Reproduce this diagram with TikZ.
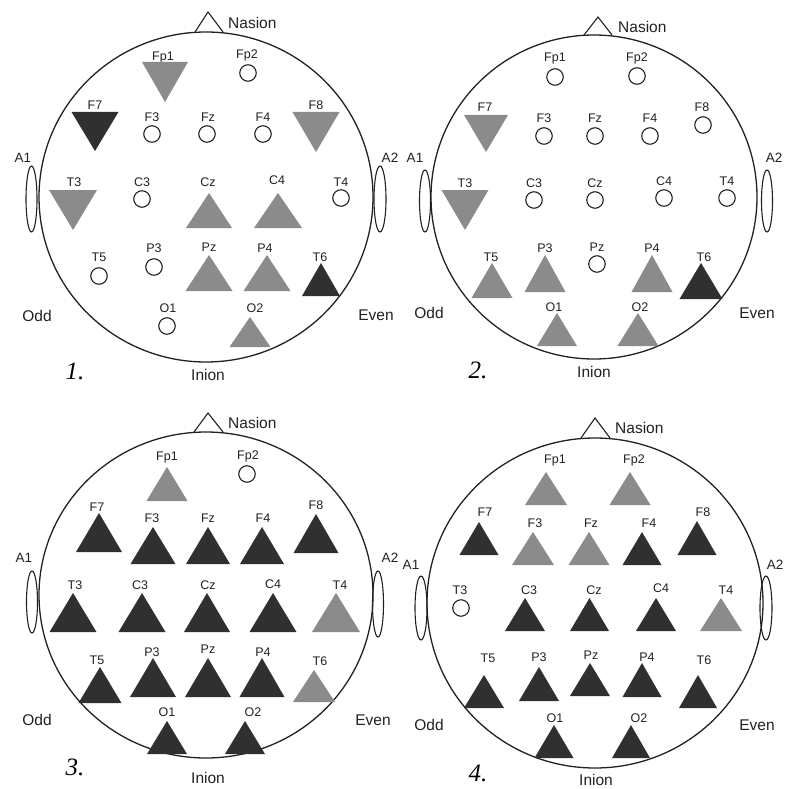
\documentclass[tikz,border=0pt]{standalone}
\usepackage{fontspec}
\setmainfont{Liberation Sans}
\newfontfamily\numfont{Liberation Serif}
\definecolor{lg}{HTML}{8B8B8B}
\definecolor{dk}{HTML}{303030}
\definecolor{ln}{HTML}{222222}
\newcommand\tup[5]{\fill[#1] (#2,#3) -- (#2+#5,#4) -- (#2-#5,#4) -- cycle;}
\newcommand\tdn[5]{\fill[#1] (#2-#5,#3) -- (#2+#5,#3) -- (#2,#4) -- cycle;}
\tikzset{
  head/.style={draw=ln, line width=1.3pt},
  ear/.style={draw=ln, line width=1.1pt, fill=white},
  nas/.style={draw=ln, line width=1.1pt, line join=miter},
  ecirc/.style={circle, draw=ln, line width=1.1pt, minimum size=16.5pt, inner sep=0pt},
  elab/.style={inner sep=0pt, text=ln, font=\fontsize{12.5pt}{13pt}\selectfont},
  big/.style={inner sep=0pt, text=ln, font=\fontsize{15.5pt}{16pt}\selectfont},
  alab/.style={inner sep=0pt, text=ln, font=\fontsize{13.5pt}{14pt}\selectfont},
  num/.style={inner sep=0pt, text=black, font=\numfont\itshape\fontsize{25pt}{26pt}\selectfont}
}
\begin{document}
\begin{tikzpicture}[x=1pt,y=-1pt]
\fill[white] (0,0) rectangle (784,789);
\useasboundingbox (0,0) rectangle (784,789);

% ================= Panel 1 =================
\draw[ear] (31.5,199) ellipse [x radius=5.5pt, y radius=33pt];
\draw[ear] (380,199) ellipse [x radius=6pt, y radius=33pt];
\draw[head] (206,197) ellipse [x radius=167pt, y radius=165pt];
\draw[nas] (195,32) -- (208,12) -- (223,32);
\node[big, anchor=west] (p1nas) at (228,23) {Nasion};
\node[alab] (p1A1) at (23,158) {A1};
\node[alab] (p1A2) at (390,158) {A2};
\node[big] (p1odd) at (37,316) {Odd};
\node[big] (p1even) at (376,315) {Even};
\node[big] (p1inion) at (208,375) {Inion};
\node[num] (p1num) at (75,371) {1.};
\foreach \n/\x/\y in {Fp1/163/57, Fp2/247/55, F7/95/105, F3/152/117, Fz/208/117, F4/263/117, F8/316/105,
  T3/74/182, C3/142/182, Cz/208/182, C4/277/180, T4/341/182,
  T5/99/257, P3/154/248, Pz/209/247, P4/265/248, T6/320/257, O1/168/308, O2/255/308}
  \node[elab] (p1\n) at (\x,\y) {\n};
\tdn{lg}{165}{62}{102}{23}
\node[ecirc] (p1cFp2) at (248,73) {};
\tdn{dk}{95}{112}{151}{23.5}
\node[ecirc] (p1cF3) at (152,134) {};
\node[ecirc] (p1cFz) at (207,134) {};
\node[ecirc] (p1cF4) at (263,134) {};
\tdn{lg}{316}{112}{152}{23.5}
\tdn{lg}{73}{190}{230}{24}
\node[ecirc] (p1cC3) at (142,199) {};
\tup{lg}{209}{193}{228}{23}
\tup{lg}{278}{193}{228}{24}
\node[ecirc] (p1cT4) at (341,198) {};
\node[ecirc] (p1cT5) at (99,276) {};
\node[ecirc] (p1cP3) at (154,267) {};
\tup{lg}{209}{255}{291}{23.5}
\tup{lg}{267}{255}{291}{23.5}
\tup{dk}{321}{263}{296}{19}
\node[ecirc] (p1cO1) at (167,326) {};
\tup{lg}{250}{317}{347}{20.5}

% ================= Panel 2 =================
\draw[ear] (425,201) ellipse [x radius=5.5pt, y radius=31pt];
\draw[ear] (767,201) ellipse [x radius=5.5pt, y radius=31pt];
\draw[head] (594,197) ellipse [x radius=163pt, y radius=162pt];
\draw[nas] (584,35) -- (598,17) -- (612,35);
\node[big, anchor=west] (p2nas) at (618,27) {Nasion};
\node[alab] (p2A1) at (415,158) {A1};
\node[alab] (p2A2) at (774,158) {A2};
\node[big] (p2odd) at (429,313) {Odd};
\node[big] (p2even) at (757,313) {Even};
\node[big] (p2inion) at (594,372) {Inion};
\node[num] (p2num) at (478,370) {2.};
\foreach \n/\x/\y in {Fp1/555/58, Fp2/637/58, F7/485/107, F3/544/118, Fz/595/118, F4/650/118, F8/702/107,
  T3/465/183, C3/534/183, Cz/595/183, C4/664/181, T4/727/181,
  T5/491/257, P3/545/248, Pz/597/247, P4/652/248, T6/704/257, O1/554/307, O2/640/307}
  \node[elab] (p2\n) at (\x,\y) {\n};
\node[ecirc] (p2cFp1) at (555,77) {};
\node[ecirc] (p2cFp2) at (637,76) {};
\tdn{lg}{486}{115}{152}{22}
\node[ecirc] (p2cF3) at (544,136) {};
\node[ecirc] (p2cFz) at (595,136) {};
\node[ecirc] (p2cF4) at (650,136) {};
\node[ecirc] (p2cF8) at (703,125) {};
\tdn{lg}{465}{190}{230}{23.5}
\node[ecirc] (p2cC3) at (534,200) {};
\node[ecirc] (p2cCz) at (595,200) {};
\node[ecirc] (p2cC4) at (664,198) {};
\node[ecirc] (p2cT4) at (727,198) {};
\tup{lg}{492}{263}{298}{20.5}
\tup{lg}{545}{255}{292}{20.5}
\node[ecirc] (p2cPz) at (597,264) {};
\tup{lg}{652}{255}{292}{20.5}
\tup{dk}{701}{263}{299}{21.5}
\tup{lg}{557}{313}{346}{20}
\tup{lg}{638}{313}{346}{20.5}

% ================= Panel 3 =================
\draw[ear] (32,602) ellipse [x radius=5.5pt, y radius=31pt];
\draw[ear] (378,604) ellipse [x radius=5.5pt, y radius=33pt];
\draw[head] (206,595) ellipse [x radius=167pt, y radius=163pt];
\draw[nas] (194,432) -- (208,413) -- (223,432);
\node[big, anchor=west] (p3nas) at (228,423) {Nasion};
\node[alab] (p3A1) at (24,558) {A1};
\node[alab] (p3A2) at (390,558) {A2};
\node[big] (p3odd) at (37,720) {Odd};
\node[big] (p3even) at (373,720) {Even};
\node[big] (p3inion) at (208,778) {Inion};
\node[num] (p3num) at (75,767) {3.};
\foreach \n/\x/\y in {Fp1/167/457, Fp2/248/456, F7/97/507, F3/152/518, Fz/208/518, F4/263/518, F8/316/505,
  T3/75/585, C3/140/585, Cz/208/585, C4/273/584, T4/340/585,
  T5/97/660, P3/152/652, Pz/208/649, P4/263/652, T6/320/661, O1/167/712, O2/253/712}
  \node[elab] (p3\n) at (\x,\y) {\n};
\tup{lg}{167}{467}{501}{20.5}
\node[ecirc] (p3cFp2) at (247,474) {};
\tup{dk}{99}{513}{552}{23}
\tup{dk}{153}{527}{564}{22.5}
\tup{dk}{208}{527}{564}{22}
\tup{dk}{262}{527}{564}{22}
\tup{dk}{316}{514}{553}{22.5}
\tup{dk}{73}{593}{632}{23.5}
\tup{dk}{142}{593}{632}{23.5}
\tup{dk}{207}{593}{632}{23}
\tup{dk}{273}{593}{632}{23.5}
\tup{lg}{336}{593}{632}{24}
\tup{dk}{100}{667}{703}{21.5}
\tup{dk}{153}{658}{697}{23}
\tup{dk}{208}{658}{697}{23}
\tup{dk}{262}{658}{697}{22.5}
\tup{lg}{314}{670}{702}{21}
\tup{dk}{167}{721}{754}{20}
\tup{dk}{245}{721}{754}{20}

% ================= Panel 4 =================
\draw[ear] (421,608) ellipse [x radius=6pt, y radius=32pt];
\draw[ear] (766,608) ellipse [x radius=6pt, y radius=32pt];
\draw[head] (595,603) ellipse [x radius=168pt, y radius=165pt];
\draw[nas] (581,438) -- (595,418) -- (610,438);
\node[big, anchor=west] (p4nas) at (615,428) {Nasion};
\node[alab] (p4A1) at (411,565) {A1};
\node[alab] (p4A2) at (775,565) {A2};
\node[big] (p4odd) at (429,725) {Odd};
\node[big] (p4even) at (757,725) {Even};
\node[big] (p4inion) at (596,780) {Inion};
\node[num] (p4num) at (478,773) {4.};
\foreach \n/\x/\y in {Fp1/555/460, Fp2/634/460, F7/485/512, F3/535/523, Fz/591/523, F4/649/523, F8/703/512,
  T3/460/590, C3/529/590, Cz/594/590, C4/661/588, T4/726/590,
  T5/488/658, P3/539/657, Pz/591/655, P4/647/657, T6/704/660, O1/555/718, O2/639/718}
  \node[elab] (p4\n) at (\x,\y) {\n};
\tup{lg}{546}{472}{505}{21}
\tup{lg}{630}{472}{505}{20.5}
\tup{dk}{479}{522}{555}{19.5}
\tup{lg}{533}{532}{565}{21}
\tup{lg}{589}{532}{565}{20.5}
\tup{dk}{642}{532}{565}{19.5}
\tup{dk}{697}{521}{555}{19.5}
\node[ecirc] (p4cT3) at (461,608) {};
\tup{dk}{525}{598}{631}{20}
\tup{dk}{589.5}{598}{631}{19.5}
\tup{dk}{656}{598}{631}{20}
\tup{lg}{721}{598}{631}{21}
\tup{dk}{484}{675}{708}{20}
\tup{dk}{539}{667}{701}{20}
\tup{dk}{590}{663}{696}{20}
\tup{dk}{642}{663}{697}{19.5}
\tup{dk}{698}{675}{708}{19}
\tup{dk}{554}{725}{758}{19.5}
\tup{dk}{631}{725}{758}{19}
\end{tikzpicture}
\end{document}
